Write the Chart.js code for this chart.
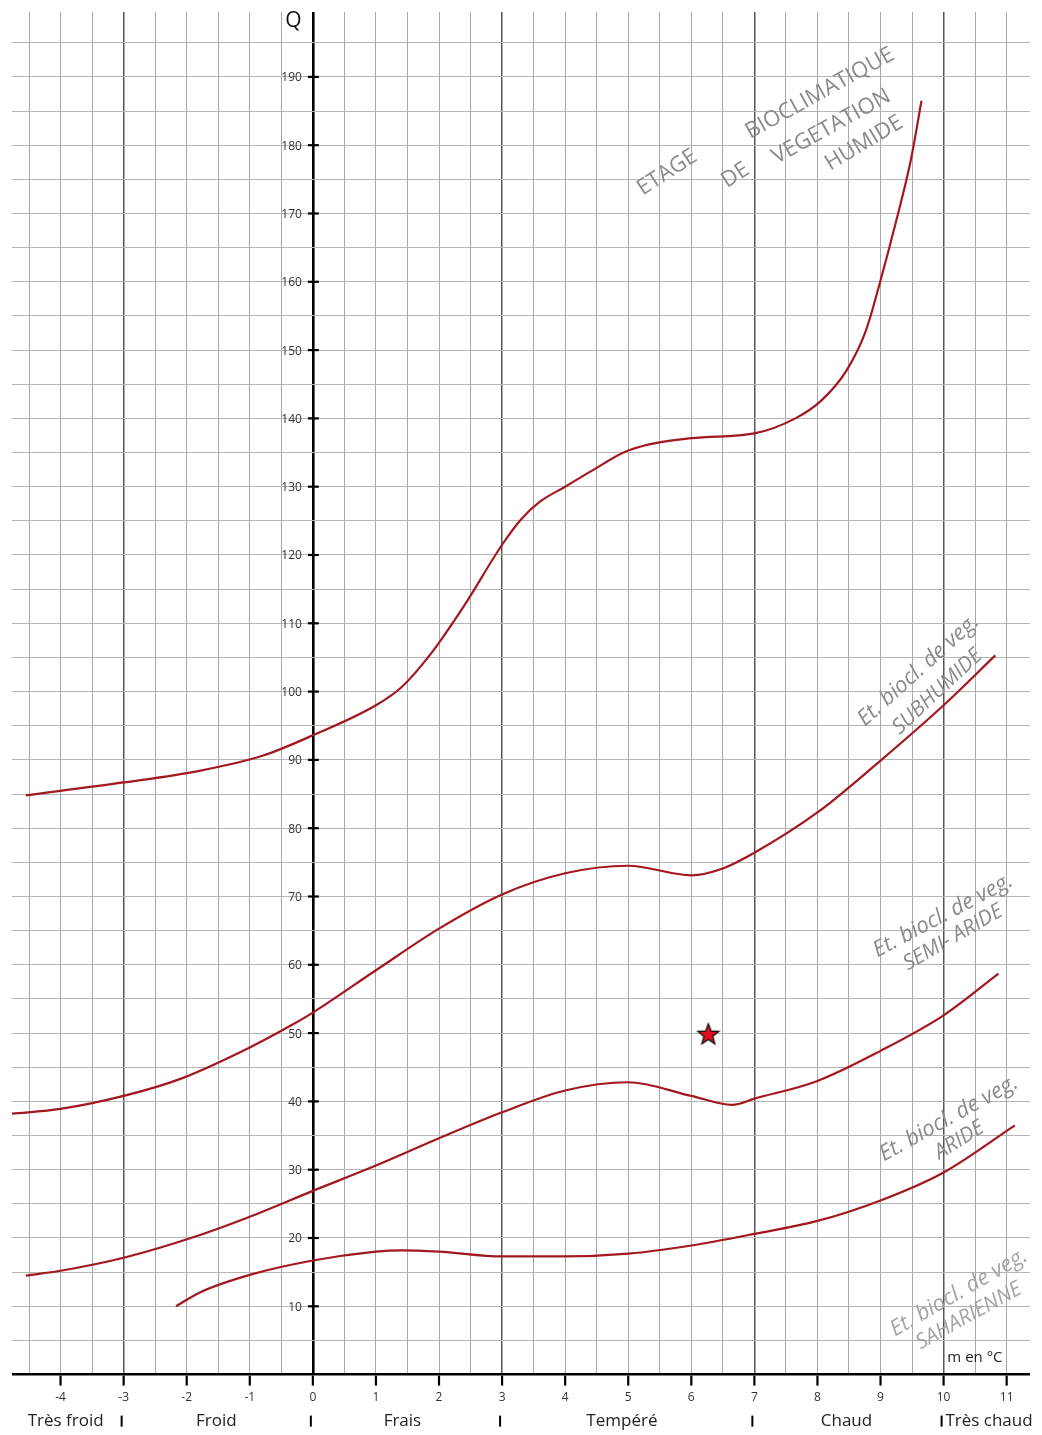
<!DOCTYPE html>
<html>
<head>
<meta charset="utf-8">
<script src="https://cdn.jsdelivr.net/npm/chart.js@4.4.1/dist/chart.umd.min.js"></script>
<style>
  html, body { margin: 0; padding: 0; background: #fff; }
  #wrap { width: 1042px; height: 1435px; }
</style>
</head>
<body>
<div id="wrap"><canvas id="climagramme"></canvas></div>
<script>
// m (°C) and Q values, one pair of arrays per boundary
const mHumide = [-4.55, -3, -1.8, -0.8, 0, 1, 1.4, 1.85, 2.4, 3.0, 3.3, 3.6, 4.0, 4.4, 5.0, 6.0, 7.0, 7.65, 8.06, 8.46, 8.77, 9.0, 9.24, 9.48, 9.65];
const qHumide = [84.8, 86.7, 88.4, 90.6, 93.6, 98, 100.6, 105.3, 112.6, 121.5, 125.2, 127.8, 130.0, 132.2, 135.3, 137.1, 137.8, 140, 142.6, 147, 152.9, 160.2, 168.6, 177.8, 186.5];

const mSubhumide = [-4.77, -4, -3, -2.1, -1, -0.35, 0, 1, 2, 3, 4, 5, 6, 6.5, 7, 8, 9, 10, 10.82];
const qSubhumide = [38.2, 38.9, 40.8, 43.3, 47.9, 51.1, 53, 59.2, 65.3, 70.3, 73.4, 74.5, 73.1, 74.1, 76.4, 82.3, 89.9, 98, 105.3];

const mSemiAride = [-4.55, -4, -3, -1.8, -1, 0, 1, 2, 3, 4, 5, 6, 6.65, 7, 8, 9, 10, 10.87];
const qSemiAride = [14.5, 15.2, 17.1, 20.4, 23.1, 26.9, 30.6, 34.6, 38.4, 41.6, 42.8, 40.8, 39.5, 40.4, 43, 47.4, 52.6, 58.7];

const mAride = [-2.17, -1.8, -1, 0, 1, 1.4, 2, 3, 4, 5, 6, 7, 8, 9, 10, 11.13];
const qAride = [10, 12, 14.6, 16.7, 18, 18.2, 18, 17.3, 17.3, 17.7, 18.9, 20.6, 22.5, 25.5, 29.6, 36.5];

const stationM = [6.27];
const stationQ = [49.9];

const xTickLabels = [-4, -3, -2, -1, 0, 1, 2, 3, 4, 5, 6, 7, 8, 9, 10, 11];
const yTickLabels = [10, 20, 30, 40, 50, 60, 70, 80, 90, 100, 110, 120, 130, 140, 150, 160, 170, 180, 190];
const zoneLimits = [-3, 0, 3, 7, 10];
const zoneNames = ['Très froid', 'Froid', 'Frais', 'Tempéré', 'Chaud', 'Très chaud'];
const zoneCenters = [-3.92, -1.53, 1.42, 4.9, 8.46, 10.72];

// rotated stage names (m, Q, angle in degrees)
const stageLabels = [
  { t: 'ETAGE', m: 5.62, q: 176.0, a: -33, font: '22px "Open Sans"', c: '#8a8a8a' },
  { t: 'DE', m: 6.7, q: 175.6, a: -33, font: '22px "Open Sans"', c: '#8a8a8a' },
  { t: 'BIOCLIMATIQUE', m: 8.04, q: 187.6, a: -29, font: '22px "Open Sans"', c: '#8a8a8a' },
  { t: 'VEGETATION', m: 8.22, q: 182.7, a: -29, font: '22px "Open Sans"', c: '#8a8a8a' },
  { t: 'HUMIDE', m: 8.74, q: 180.3, a: -31, font: '22px "Open Sans"', c: '#8a8a8a' },
  { t: 'Et. biocl. de veg.', m: 9.6, q: 103.1, a: -42, font: 'italic 22px "Open Sans"', c: '#8a8a8a' },
  { t: 'SUBHUMIDE', m: 9.9, q: 100.0, a: -43, font: 'italic 21px "Open Sans"', c: '#8a8a8a' },
  { t: 'Et. biocl. de veg.', m: 9.99, q: 67.2, a: -28, font: 'italic 22px "Open Sans"', c: '#8a8a8a' },
  { t: 'SEMI- ARIDE', m: 10.15, q: 64.0, a: -30, font: 'italic 21px "Open Sans"', c: '#8a8a8a' },
  { t: 'Et. biocl. de veg.', m: 10.08, q: 37.5, a: -29, font: 'italic 22px "Open Sans"', c: '#8a8a8a' },
  { t: 'ARIDE', m: 10.25, q: 34.3, a: -32, font: 'italic 21px "Open Sans"', c: '#8a8a8a' },
  { t: 'Et. biocl. de veg.', m: 10.24, q: 12.0, a: -30, font: 'italic 22px "Open Sans"', c: '#a4a4a4' },
  { t: 'SAHARIENNE', m: 10.4, q: 8.6, a: -29, font: 'italic 21px "Open Sans"', c: '#a4a4a4' }
];

const curveColor = '#a3171f';

function toPoints(ms, qs) {
  return ms.map((m, i) => ({ x: m, y: qs[i] }));
}

// filled five-point star used as point style for the station
function makeStar(r) {
  const c = document.createElement('canvas');
  const s = Math.ceil(r * 2 + 4);
  c.width = s; c.height = s;
  const g = c.getContext('2d');
  g.beginPath();
  for (let i = 0; i < 10; i++) {
    const rad = i % 2 === 0 ? r : r * 0.42;
    const ang = -Math.PI / 2 + i * Math.PI / 5;
    const px = s / 2 + rad * Math.cos(ang);
    const py = s / 2 + 1 + rad * Math.sin(ang);
    if (i === 0) g.moveTo(px, py); else g.lineTo(px, py);
  }
  g.closePath();
  g.fillStyle = '#e3101c';
  g.fill();
  g.lineWidth = 1.3;
  g.strokeStyle = '#111';
  g.stroke();
  return c;
}

const curve = (label, ms, qs) => ({
  label: label,
  data: toPoints(ms, qs),
  showLine: true,
  borderColor: curveColor,
  borderWidth: 2.2,
  pointRadius: 0,
  cubicInterpolationMode: 'monotone',
  fill: false
});

const decor = {
  id: 'decor',
  afterDraw(chart) {
    const g = chart.ctx;
    const x = chart.scales.x, y = chart.scales.y;
    const y0 = y.getPixelForValue(0);
    const x0 = x.getPixelForValue(0);
    g.save();
    g.strokeStyle = '#000';
    g.lineWidth = 2.2;
    // ticks on the Q axis
    yTickLabels.forEach(v => {
      const py = y.getPixelForValue(v);
      g.beginPath(); g.moveTo(x0 - 5, py); g.lineTo(x0 + 6, py); g.stroke();
    });
    // ticks on the m axis
    xTickLabels.forEach(v => {
      const px = x.getPixelForValue(v);
      g.beginPath(); g.moveTo(px, y0 + 1); g.lineTo(px, y0 + 11); g.stroke();
    });
    g.fillStyle = '#333';
    g.font = '12px "Open Sans"';
    g.textAlign = 'right';
    g.textBaseline = 'middle';
    yTickLabels.forEach(v => {
      g.fillText(String(v), x0 - 11, y.getPixelForValue(v) + 1);
    });
    g.fillStyle = '#111';
    g.font = '21px "Open Sans"';
    g.textAlign = 'center';
    g.fillText('Q', x.getPixelForValue(-0.31), y.getPixelForValue(198.2));
    g.font = '15px "Open Sans"';
    g.textAlign = 'left';
    g.fillStyle = '#222';
    g.fillText('m en °C', x.getPixelForValue(10.06), y.getPixelForValue(2.5));
    // thermal zones below the axis
    g.font = '17px "Open Sans"';
    g.textAlign = 'center';
    g.fillStyle = '#222';
    zoneNames.forEach((n, i) => {
      g.fillText(n, x.getPixelForValue(zoneCenters[i]), y0 + 47);
    });
    g.lineWidth = 2;
    zoneLimits.forEach(v => {
      const px = x.getPixelForValue(v) - 2;
      g.beginPath(); g.moveTo(px, y0 + 41); g.lineTo(px, y0 + 52); g.stroke();
    });
    // stage names
    g.textBaseline = 'middle';
    stageLabels.forEach(l => {
      g.save();
      g.translate(x.getPixelForValue(l.m), y.getPixelForValue(l.q));
      g.rotate(l.a * Math.PI / 180);
      g.font = l.font;
      g.fillStyle = l.c;
      g.textAlign = 'center';
      g.fillText(l.t, 0, 0);
      g.restore();
    });
    g.restore();
  }
};

const ctx = document.getElementById('climagramme').getContext('2d');
const climagramme = new Chart(ctx, {
  type: 'scatter',
  data: {
    datasets: [
      curve('Humide', mHumide, qHumide),
      curve('Subhumide', mSubhumide, qSubhumide),
      curve('Semi-aride', mSemiAride, qSemiAride),
      curve('Aride', mAride, qAride),
      {
        label: 'Station',
        data: toPoints(stationM, stationQ),
        pointStyle: makeStar(11),
        pointRadius: 11,
        showLine: false
      }
    ]
  },
  options: {
    responsive: true,
    maintainAspectRatio: false,
    animation: false,
    layout: { padding: { left: 10, right: 7, top: 2, bottom: 14 } },
    plugins: {
      legend: { display: false },
      tooltip: { enabled: false }
    },
    scales: {
      x: {
        type: 'linear',
        min: -4.77,
        max: 11.37,
        border: { display: false },
        grid: {
          drawTicks: false,
          color: c => {
            const v = c.tick && c.tick.value;
            if (v === 0) return '#000';
            if (zoneLimits.includes(v)) return '#555';
            return '#a8a8a8';
          },
          lineWidth: c => {
            const v = c.tick && c.tick.value;
            if (v === 0) return 2.6;
            if (zoneLimits.includes(v)) return 1.5;
            return 1;
          }
        },
        ticks: {
          stepSize: 0.5,
          includeBounds: false,
          autoSkip: false,
          maxRotation: 0,
          padding: 16,
          color: '#333',
          font: { family: 'Open Sans', size: 12 },
          callback: v => xTickLabels.includes(v) ? String(v) : ''
        }
      },
      y: {
        type: 'linear',
        min: 0,
        max: 199.5,
        border: { display: false },
        grid: {
          drawTicks: false,
          color: c => {
            const v = c.tick && c.tick.value;
            if (v === 0) return '#000';
            return '#b4b4b4';
          },
          lineWidth: c => (c.tick && c.tick.value === 0) ? 2.6 : 1
        },
        ticks: { stepSize: 5, includeBounds: false, display: false }
      }
    }
  },
  plugins: [decor]
});
</script>
</body>
</html>
